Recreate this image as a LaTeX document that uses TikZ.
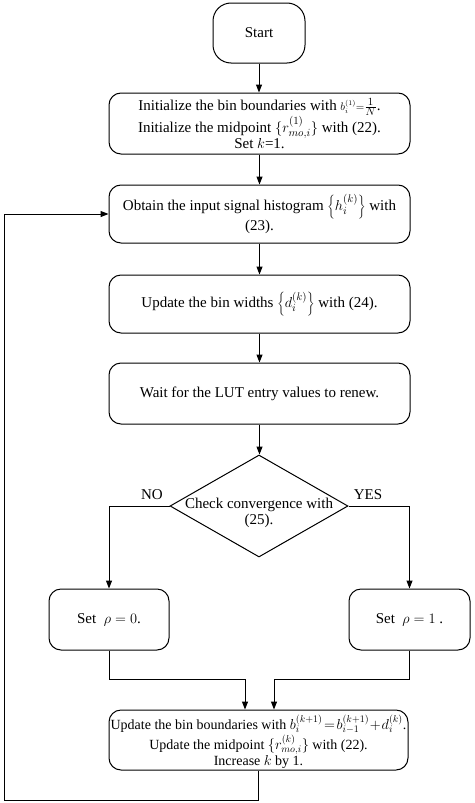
\documentclass[tikz,border=0pt]{standalone}
\usepackage{fontspec}
\setmainfont{Liberation Serif}
\usetikzlibrary{shapes.geometric,arrows.meta}
\begin{document}
\begin{tikzpicture}[x=1pt,y=-1pt,line width=1pt,
  txt/.style={font=\fontsize{15}{16.3}\selectfont},
  box/.style={draw, rounded corners=12pt, minimum width=301pt, minimum height=60pt, align=center, inner sep=1pt, txt},
  arr/.style={-{Triangle[length=8pt,width=6pt]}},
  lbl/.style={txt}]
\useasboundingbox (0,0) rectangle (474,803);
\node[box, minimum width=92pt, minimum height=60pt, rounded corners=18pt] (start) at (259,33) {Start};
\node[box, minimum height=61pt] (b1) at (259.5,123.5) {Initialize the bin boundaries with ${\scriptstyle b_i^{(1)}=}\frac{1}{N}$.\\Initialize the midpoint $\{r_{mo,i}^{(1)}\}$ with (22).\\Set $k$=1.};
\node[box, minimum height=58pt] (b2) at (259.5,214) {Obtain the input signal histogram $\left\{h_i^{(k)}\right\}$ with\\(23).};
\node[box, minimum height=58pt] (b3) at (259.5,304) {Update the bin widths $\left\{d_i^{(k)}\right\}$ with (24).};
\node[box, minimum height=61pt] (b4) at (259.5,393.5) {Wait for the LUT entry values to renew.};
\node[diamond, draw, minimum width=178pt, minimum height=102pt, inner sep=0pt] (dec) at (259,506) {};
\node[txt, align=center] (dectext) at (259,513) {Check convergence with\\(25).};
\node[lbl] (no) at (152,495) {NO};
\node[lbl] (yes) at (368,495) {YES};
\node[box, minimum width=120pt, minimum height=61pt] (s0) at (109,619.5) {Set \ $\rho = 0$.};
\node[box, minimum width=121pt, minimum height=61pt] (s1) at (409.5,619.5) {Set \ $\rho = 1$ .};
\node[box, minimum width=299pt, minimum height=60pt] (fin) at (258.5,740) {};
\node[align=center, font=\fontsize{14}{15.5}\selectfont, inner sep=0pt] (fintext) at (258.5,741.5) {Update the bin boundaries with $\medmuskip=1mu\thickmuskip=2mu b_i^{(k+1)}=b_{i-1}^{(k+1)}+d_i^{(k)}$.\\Update the midpoint $\{r_{mo,i}^{(k)}\}$ with (22).\\Increase $k$ by 1.};
\coordinate (jl) at (245,679);
\coordinate (jr) at (274,679);
\coordinate (lb) at (4,800);
\draw[arr] (start.south) -- (start.south |- b1.north);
\draw[arr] (b1) -- (b2);
\draw[arr] (b2) -- (b3);
\draw[arr] (b3) -- (b4);
\draw[arr] (b4.south) -- (b4.south |- dec.north);
\draw[arr] (dec.west) -| (s0.north);
\draw[arr] (dec.east) -| (s1.north);
\draw[arr] (s0.south) |- (jl) -- (jl |- fin.north);
\draw[arr] (s1.south) |- (jr) -- (jr |- fin.north);
\draw[arr] (fin.south) |- (lb) |- (b2.west);
\end{tikzpicture}
\end{document}
